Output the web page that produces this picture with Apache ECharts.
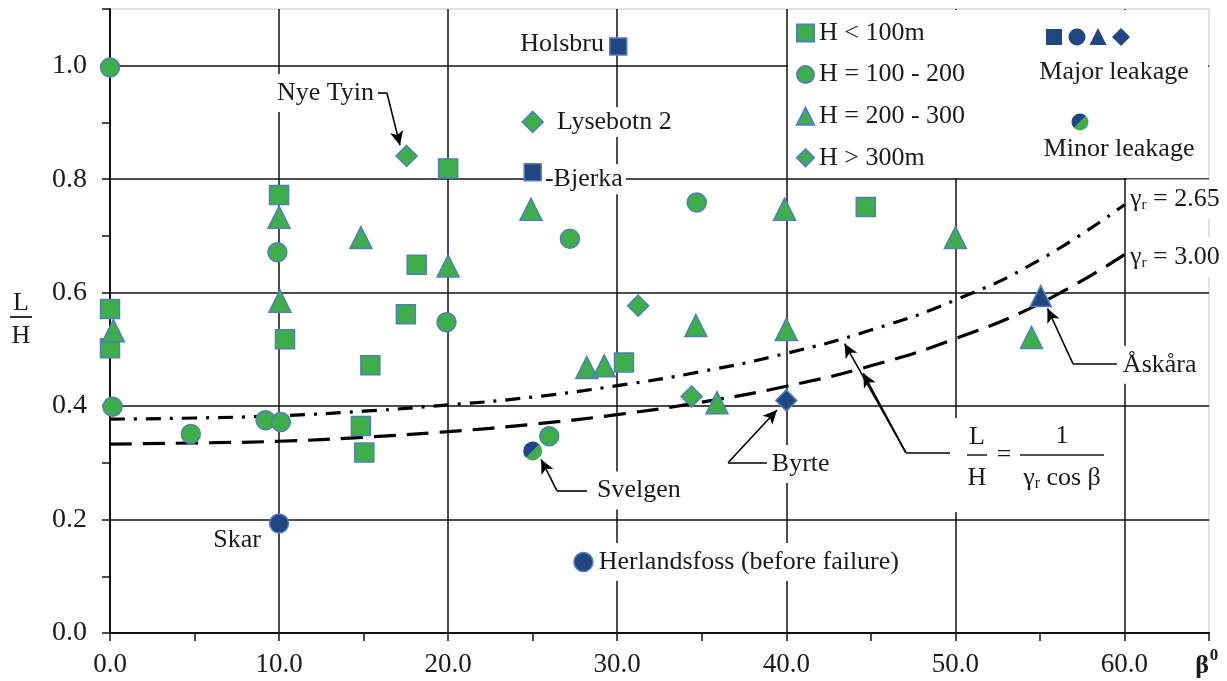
<!DOCTYPE html>
<html><head><meta charset="utf-8">
<script src="https://cdn.jsdelivr.net/npm/echarts@6/dist/echarts.min.js"></script>
<style>html,body{margin:0;padding:0;background:#fff}#c{width:1227px;height:681px}</style>
</head><body><div id="c"></div><script>
// ---------- DATA ----------
const legendNames = ['H < 100m', 'H = 100 - 200', 'H = 200 - 300', 'H > 300m'];
// [beta, L/H]
const hLt100 = [[0,0.571],[0,0.502],[10.0,0.772],[10.35,0.518],[15.4,0.472],[14.84,0.365],[15.04,0.318],[18.14,0.649],[17.5,0.562],[20.0,0.819],[30.4,0.477],[44.7,0.751]];
const h100to200 = [[0,0.997],[0.15,0.399],[4.78,0.351],[9.2,0.375],[10.1,0.372],[9.9,0.671],[19.9,0.548],[27.2,0.695],[34.7,0.759],[25.98,0.347]];
const h200to300 = [[0.2,0.533],[10.0,0.733],[10.05,0.585],[14.84,0.697],[20.0,0.647],[24.9,0.747],[28.2,0.468],[29.23,0.471],[34.65,0.542],[35.9,0.406],[40.0,0.535],[39.9,0.747],[50.0,0.697],[54.5,0.521]];
const hGt300 = [[17.54,0.841],[25.0,0.901],[31.24,0.577],[34.4,0.417]];
const hGt300Names = ['', 'Lysebotn 2', '', ''];
// major leakage (dark)
const majorSquares = [[30.06,1.034],[25.0,0.812]];
const majorSquareNames = ['Holsbru','Bjerka'];
const majorCircles = [[10.0,0.193],[28.0,0.125]];
const majorCircleNames = ['Skar','Herlandsfoss (before failure)'];
const majorTriangles = [[55.05,0.594]];
const majorDiamonds = [[40.0,0.41]];
// minor leakage
const minorCircles = [[25.0,0.321]];
// design curves L/H = 1/(gamma_r cos beta)
const curveBeta = [0,5,10,15,20,25,30,35,40,45,50,55,60];
const curve265 = [0.377,0.379,0.383,0.391,0.402,0.416,0.436,0.461,0.493,0.534,0.587,0.658,0.755];
const curve300 = [0.333,0.335,0.338,0.345,0.355,0.368,0.385,0.407,0.435,0.471,0.519,0.581,0.667];
const xTickLabels = ['0.0','10.0','20.0','30.0','40.0','50.0','60.0'];
const yTickLabels = ['0.0','0.2','0.4','0.6','0.8','1.0'];

// ---------- STYLE ----------
const FONT = '"Liberation Serif", "Times New Roman", serif';
const GREEN = '#3dae4a', EDGE = '#4f7fbd', DARK = '#22467f', INK = '#1a1a1a';
const baseLabel = {show:true, formatter:'{b}', fontFamily:FONT, fontSize:26, color:INK, backgroundColor:'#fff', padding:[2,3]};
const labelCfg = {
  'Holsbru': {position:'left', distance:2, offset:[0,-2]},
  'Bjerka': {position:'right', distance:0, offset:[0,7], formatter:'-Bjerka'},
  'Lysebotn 2': {position:'right', distance:10},
  'Skar': {position:'left', distance:5, offset:[0,17], backgroundColor:'transparent'},
  'Herlandsfoss (before failure)': {position:'right', distance:3, padding:[6,2]}
};
function items(pts, names){
  return pts.map((p,i)=>{
    const n = names ? names[i] : '';
    const it = {value:p, name:n};
    if (n && labelCfg[n]) it.label = Object.assign({}, baseLabel, labelCfg[n]);
    return it;
  });
}
function zip(xs, ys){ return xs.map((x,i)=>[x, ys[i]]); }

// annotation geometry (data coordinates): [x1,y1,x2,y2,arrowAtEnd]
const arrowSegs = [
  [15.85,0.952,16.38,0.952,false],[16.38,0.952,17.15,0.860,true],
  [28.21,0.251,26.43,0.251,false],[26.43,0.251,25.5,0.306,true],
  [38.85,0.300,36.55,0.300,false],[36.55,0.300,39.45,0.393,true],
  [49.85,0.318,47.07,0.318,false],[47.07,0.318,43.45,0.510,true],[47.07,0.318,44.55,0.458,true],
  [59.55,0.475,56.95,0.475,false],[56.95,0.475,55.45,0.572,true]
];
const annoTexts = [
  {coord:[15.85,0.952], text:'Nye Tyin', position:'left', distance:1},
  {coord:[28.21,0.251], text:'Svelgen', position:'right', distance:7},
  {coord:[38.85,0.298], text:'Byrte', position:'right', distance:2},
  {coord:[59.55,0.473], text:'Åskåra', position:'right', distance:3},
  {coord:[60.15,0.765], text:'{g|γ}{s|r} = 2.65', position:'right', distance:0},
  {coord:[60.15,0.662], text:'{g|γ}{s|r} = 3.00', position:'right', distance:0}
];

const scatterBase = (name, symbol, size, color) => ({
  name, type:'scatter', symbol, symbolSize:size, z:3,
  itemStyle:{color, borderColor:EDGE, borderWidth:1.5, opacity:1},
  emphasis:{disabled:true}, animation:false
});

const chart = echarts.init(document.getElementById('c'));
const option = {
  animation:false,
  backgroundColor:'#fff',
  grid:{left:110, right:18, top:9, bottom:48, show:true, borderColor:'#c4c4c4', borderWidth:1},
  legend:{
    data:legendNames, orient:'vertical', left:791, top:15, itemWidth:17, itemHeight:17, itemGap:15.6,
    selectedMode:false, textStyle:{fontFamily:FONT, fontSize:26, color:INK}, z:20
  },
  xAxis:[
    {type:'value', min:0, max:65, interval:5,
     axisLine:{show:true, onZero:false, lineStyle:{color:'#111', width:2}},
     axisTick:{show:true, inside:false, length:8, lineStyle:{color:'#111', width:1.5}},
     axisLabel:{margin:18, fontFamily:FONT, fontSize:27, color:INK,
       formatter:v=>{const k=Math.round(v/10); return (Math.abs(v-k*10)<1e-6 && k<xTickLabels.length)? xTickLabels[k]:'';}},
     splitLine:{show:false}},
    {type:'value', min:0, max:65, interval:10, position:'bottom',
     axisLine:{show:false}, axisTick:{show:false}, axisLabel:{show:false},
     splitLine:{show:true, showMinLine:false, showMaxLine:false, lineStyle:{color:'#111', width:1.5}}}
  ],
  yAxis:[
    {type:'value', min:0, max:1.1, interval:0.1,
     axisLine:{show:true, onZero:false, lineStyle:{color:'#111', width:2}},
     axisTick:{show:true, inside:false, length:8, lineStyle:{color:'#111', width:1.5}},
     axisLabel:{margin:23, fontFamily:FONT, fontSize:28, color:INK,
       formatter:v=>{const k=Math.round(v*10); return (k%2===0 && k/2<yTickLabels.length)? yTickLabels[k/2]:'';}},
     splitLine:{show:false}},
    {type:'value', min:0, max:1.1, interval:0.2, position:'left',
     axisLine:{show:false}, axisTick:{show:false}, axisLabel:{show:false},
     splitLine:{show:true, showMinLine:false, showMaxLine:false, lineStyle:{color:'#111', width:1.5}}}
  ],
  series:[
    {name:'γr = 2.65', type:'line', data:zip(curveBeta, curve265), smooth:true, showSymbol:false, z:2,
     lineStyle:{color:'#000', width:3.2, type:[15,9,3,9]}, emphasis:{disabled:true}},
    {name:'γr = 3.00', type:'line', data:zip(curveBeta, curve300), smooth:true, showSymbol:false, z:2,
     lineStyle:{color:'#000', width:3.2, type:[22,11]}, emphasis:{disabled:true}},
    Object.assign(scatterBase(legendNames[0], 'rect', 19, GREEN), {data:items(hLt100)}),
    Object.assign(scatterBase(legendNames[1], 'circle', 19, GREEN), {data:items(h100to200)}),
    Object.assign(scatterBase(legendNames[2], 'triangle', 22, GREEN), {data:items(h200to300)}),
    Object.assign(scatterBase(legendNames[3], 'diamond', 21, GREEN), {data:items(hGt300, hGt300Names)}),
    Object.assign(scatterBase('major-sq', 'rect', 17, DARK), {data:items(majorSquares, majorSquareNames)}),
    Object.assign(scatterBase('major-ci', 'circle', 19, DARK), {data:items(majorCircles, majorCircleNames)}),
    Object.assign(scatterBase('major-tr', 'triangle', 21, DARK), {data:items(majorTriangles)}),
    Object.assign(scatterBase('major-di', 'diamond', 21, DARK), {data:items(majorDiamonds)}),
    {name:'minor', type:'custom', data:minorCircles, z:3, encode:{x:0, y:1},
     renderItem:(params, api)=>{
       const p = api.coord([api.value(0), api.value(1)]);
       const r = 9.5;
       return {type:'group', children:[
         {type:'sector', shape:{cx:p[0], cy:p[1], r:r, r0:0, startAngle:-Math.PI*0.25, endAngle:Math.PI*0.75, clockwise:true}, style:{fill:GREEN}},
         {type:'sector', shape:{cx:p[0], cy:p[1], r:r, r0:0, startAngle:Math.PI*0.75, endAngle:Math.PI*1.75, clockwise:true}, style:{fill:DARK}}
       ]};
     }},
    {name:'annotations', type:'scatter', data:[], z:5, silent:true,
     markLine:{silent:true, animation:false, symbol:['none','none'], label:{show:false},
       lineStyle:{color:'#000', width:1.6, type:'solid'}, emphasis:{disabled:true},
       data:arrowSegs.map(s=>[
         {coord:[s[0],s[1]], symbol:'none'},
         {coord:[s[2],s[3]], symbol:s[4]?'arrow':'none', symbolSize:[10,14]}
       ])},
     markPoint:{silent:true, animation:false, symbol:'circle', symbolSize:0,
       data:annoTexts.map(a=>({coord:a.coord, value:0,
         label:{show:true, position:a.position, distance:a.distance, formatter:a.text,
           fontFamily:FONT, fontSize:26, color:INK, backgroundColor:'#fff', padding:[6,3],
           rich:{g:{fontFamily:FONT, fontSize:26, color:INK}, s:{fontFamily:FONT, fontSize:15, color:INK, verticalAlign:'bottom', padding:[12,0,0,0]}}}}))}
    }
  ],
  graphic:[
    // legend box
    {type:'rect', shape:{x:788, y:10, width:420, height:168}, style:{fill:'#fff'}, z:1, silent:true},
    // major leakage icons
    {type:'rect', shape:{x:1046, y:29, width:16, height:16}, style:{fill:DARK}, z:10},
    {type:'circle', shape:{cx:1077, cy:37, r:8.5}, style:{fill:DARK}, z:10},
    {type:'polygon', shape:{points:[[1098,28],[1106.5,45],[1089.5,45]]}, style:{fill:DARK}, z:10},
    {type:'polygon', shape:{points:[[1121,28],[1130,37],[1121,46],[1112,37]]}, style:{fill:DARK}, z:10},
    {type:'text', x:1114, y:72, style:{text:'Major leakage', font:'26px '+FONT, fill:INK, textAlign:'center', textVerticalAlign:'middle'}, z:10},
    {type:'sector', shape:{cx:1080, cy:122, r:8.5, r0:0, startAngle:-Math.PI*0.25, endAngle:Math.PI*0.75, clockwise:true}, style:{fill:GREEN}, z:10},
    {type:'sector', shape:{cx:1080, cy:122, r:8.5, r0:0, startAngle:Math.PI*0.75, endAngle:Math.PI*1.75, clockwise:true}, style:{fill:DARK}, z:10},
    {type:'text', x:1119, y:149, style:{text:'Minor leakage', font:'26px '+FONT, fill:INK, textAlign:'center', textVerticalAlign:'middle'}, z:10},
    // y axis title L/H
    {type:'text', x:21, y:303, style:{text:'L', font:'26px '+FONT, fill:INK, textAlign:'center', textVerticalAlign:'middle'}, z:10},
    {type:'line', shape:{x1:10, y1:317, x2:32, y2:317}, style:{stroke:INK, lineWidth:1.8}, z:10},
    {type:'text', x:21, y:336, style:{text:'H', font:'26px '+FONT, fill:INK, textAlign:'center', textVerticalAlign:'middle'}, z:10},
    // x axis title beta^0
    {type:'text', x:1202, y:666, style:{text:'β', font:'bold 26px '+FONT, fill:INK, textAlign:'center', textVerticalAlign:'middle'}, z:10},
    {type:'text', x:1214, y:656, style:{text:'0', font:'bold 17px '+FONT, fill:INK, textAlign:'center', textVerticalAlign:'middle'}, z:10},
    // formula L/H = 1/(gamma_r cos beta)
    {type:'rect', shape:{x:950, y:418, width:160, height:94}, style:{fill:'#fff'}, z:6},
    {type:'text', x:977, y:437, style:{text:'L', font:'26px '+FONT, fill:INK, textAlign:'center', textVerticalAlign:'middle'}, z:10},
    {type:'line', shape:{x1:967, y1:455, x2:987, y2:455}, style:{stroke:INK, lineWidth:1.5}, z:10},
    {type:'text', x:977, y:478, style:{text:'H', font:'26px '+FONT, fill:INK, textAlign:'center', textVerticalAlign:'middle'}, z:10},
    {type:'text', x:1004, y:455, style:{text:'=', font:'26px '+FONT, fill:INK, textAlign:'center', textVerticalAlign:'middle'}, z:10},
    {type:'text', x:1062, y:436, style:{text:'1', font:'26px '+FONT, fill:INK, textAlign:'center', textVerticalAlign:'middle'}, z:10},
    {type:'line', shape:{x1:1020, y1:455, x2:1104, y2:455}, style:{stroke:INK, lineWidth:1.5}, z:10},
    {type:'text', x:1062, y:478, style:{text:'{g|γ}{s|r}{g| cos β}', textAlign:'center', textVerticalAlign:'middle',
       rich:{g:{fontFamily:FONT, fontSize:26, fill:INK, color:INK}, s:{fontFamily:FONT, fontSize:16, fill:INK, color:INK, verticalAlign:'bottom', padding:[12,0,0,0]}}}, z:10}
  ]
};
chart.setOption(option);
</script></body></html>
